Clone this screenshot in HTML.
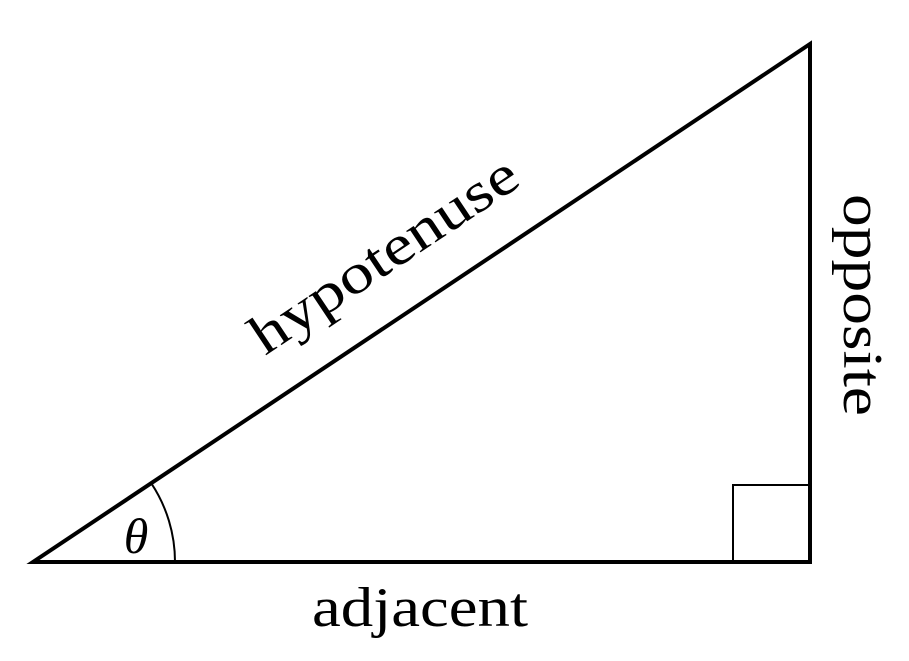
<!DOCTYPE html>
<html><head><style>html,body{margin:0;padding:0;background:#fff;}</style></head>
<body>
<svg width="909" height="656" viewBox="0 0 909 656" xmlns="http://www.w3.org/2000/svg">
<polygon points="33,562 810,562 810,44" fill="none" stroke="#000" stroke-width="4" stroke-linejoin="miter"/>
<polyline points="733,562 733,485 810,485" fill="none" stroke="#000" stroke-width="2"/>
<path d="M175,562 A142,142 0 0 0 151.2,483.2" fill="none" stroke="#000" stroke-width="2"/>
<text x="136" y="553" font-family="Liberation Serif, serif" font-style="italic" font-size="50" text-anchor="middle">θ</text>
<text x="420" y="626" font-family="Liberation Serif, serif" font-size="56" text-anchor="middle" textLength="216" lengthAdjust="spacingAndGlyphs">adjacent</text>
<text transform="translate(394,270) rotate(-33.7)" font-family="Liberation Serif, serif" font-size="56" text-anchor="middle" textLength="310" lengthAdjust="spacingAndGlyphs">hypotenuse</text>
<text transform="translate(844,305) rotate(90)" font-family="Liberation Serif, serif" font-size="56" text-anchor="middle" textLength="222" lengthAdjust="spacingAndGlyphs">opposite</text>
</svg>
</body></html>
